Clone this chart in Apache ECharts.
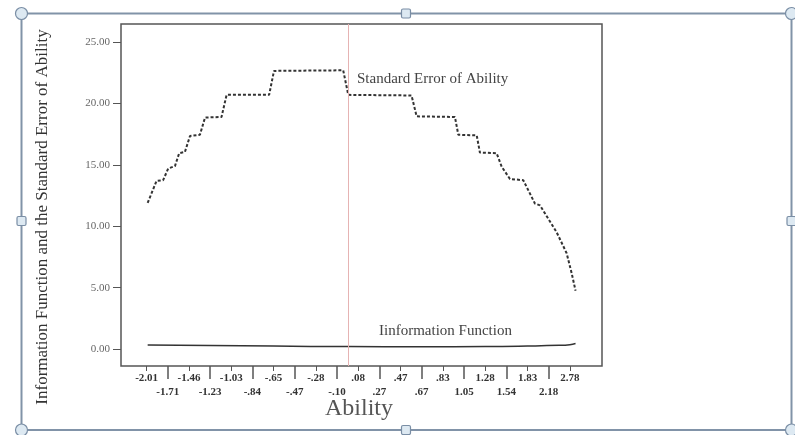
<!DOCTYPE html>
<html>
<head>
<meta charset="utf-8">
<script src="https://cdn.jsdelivr.net/npm/echarts@6/dist/echarts.min.js"></script>
<style>html,body{margin:0;padding:0;background:#fff}#c{width:795px;height:435px}</style>
</head>
<body>
<div id="c"></div>
<script>
// Ability category labels (x positions 0..20)
const abilityLabels = ['-2.01','-1.71','-1.46','-1.23','-1.03','-.84','-.65','-.47','-.28','-.10','.08','.27','.47','.67','.83','1.05','1.28','1.54','1.83','2.18','2.78'];
// Standard Error of Ability (x in category index units, y value)
const seX = [0.05,0.47,0.78,1.02,1.34,1.54,1.81,2.05,2.52,2.76,3.54,3.78,5.79,6.02,9.29,9.53,12.52,12.76,14.57,14.73,15.6,15.75,16.54,16.78,17.17,17.8,18.35,18.59,19.38,19.85,20.09,20.27];
const seY = [11.9,13.7,13.75,14.7,14.9,15.95,16.05,17.35,17.45,18.85,18.9,20.7,20.7,22.65,22.7,20.7,20.65,18.95,18.9,17.45,17.4,16.0,15.95,14.85,13.85,13.75,11.85,11.7,9.5,7.8,6.15,4.75];
// Information Function
const infoX = [0.05,3,6,9.5,13,16,18,19.5,20,20.27];
const infoY = [0.32,0.28,0.24,0.2,0.19,0.2,0.24,0.3,0.36,0.45];
const yTicks = [0,5,10,15,20,25];
const refLineX = 9.54;

const evenIdx = abilityLabels.map((_,i)=>i).filter(i=>i%2===0);
const oddIdx = abilityLabels.map((_,i)=>i).filter(i=>i%2===1);

const chart = echarts.init(document.getElementById('c'), null, {renderer:'canvas'});
const serif = 'Liberation Serif';
const xCommon = {
  type:'value', min:-1.21, max:21.52, position:'bottom', gridIndex:0,
  axisLine:{show:false, onZero:false}, splitLine:{show:false}
};
const W = 795, H = 435;
const frameL = 21.5, frameT = 13.5, frameR = 791.5, frameB = 430;
const handleCircles = [[frameL,frameT],[frameR,frameT],[frameL,frameB],[frameR,frameB]];
const handleSquares = [[406,frameT],[406,frameB],[frameL,221],[frameR,221]];
const graphics = [
  {type:'rect', shape:{x:frameL,y:frameT,width:frameR-frameL,height:frameB-frameT}, style:{fill:null, stroke:'#8193a8', lineWidth:2}, z:1},
  ...handleCircles.map(p=>({type:'circle', shape:{cx:p[0],cy:p[1],r:6}, style:{fill:'#dde9f2', stroke:'#7a8ea5', lineWidth:1.2}, z:2})),
  ...handleSquares.map(p=>({type:'rect', shape:{x:p[0]-4.5,y:p[1]-4.5,width:9,height:9,r:1.5}, style:{fill:'#dde9f2', stroke:'#7a8ea5', lineWidth:1.2}, z:2})),
  {type:'text', x:357, y:79, style:{text:'Standard Error of Ability', font:'15px "Liberation Serif"', fill:'#444', verticalAlign:'middle'}, z:5},
  {type:'text', x:379, y:331, style:{text:'Iinformation Function', font:'15px "Liberation Serif"', fill:'#444', verticalAlign:'middle'}, z:5},
  {type:'text', x:43, y:217, rotation:Math.PI/2, style:{text:'Information Function and the Standard Error of Ability', font:'17px "Liberation Serif"', fill:'#333', align:'center', verticalAlign:'middle'}, z:5},
  {type:'text', x:359, y:409, style:{text:'Ability', font:'24px "Liberation Serif"', fill:'#555', align:'center', verticalAlign:'middle'}, z:5}
];

chart.setOption({
  animation:false,
  backgroundColor:'#fff',
  grid:{left:121, right:W-602, top:24, bottom:H-366, show:true, borderColor:'#555', borderWidth:1.5, backgroundColor:'transparent'},
  xAxis:[
    Object.assign({}, xCommon, {
      axisTick:{show:true, customValues:evenIdx, length:5, lineStyle:{color:'#555', width:1}},
      axisLabel:{show:true, customValues:evenIdx, margin:7, fontFamily:serif, fontWeight:'bold', fontSize:11, color:'#333',
        formatter:v=>abilityLabels[Math.round(v)]}
    }),
    Object.assign({}, xCommon, {
      axisTick:{show:true, customValues:oddIdx, length:13, lineStyle:{color:'#555', width:1.5}},
      axisLabel:{show:true, customValues:oddIdx, margin:21, fontFamily:serif, fontWeight:'bold', fontSize:11, color:'#333',
        formatter:v=>abilityLabels[Math.round(v)]}
    })
  ],
  yAxis:{
    type:'value', min:-1.38, max:26.47,
    axisLine:{show:false, onZero:false}, splitLine:{show:false},
    axisTick:{show:true, customValues:yTicks, length:8, lineStyle:{color:'#555'}},
    axisLabel:{show:true, customValues:yTicks, margin:11, fontFamily:serif, fontSize:11, color:'#666',
      formatter:v=>v.toFixed(2)}
  },
  series:[
    {type:'line', xAxisIndex:0, data:seX.map((x,i)=>[x,seY[i]]), symbol:'none', smooth:false,
      lineStyle:{color:'#333', width:2, type:[3,2]},
      markLine:{silent:true, symbol:'none', label:{show:false}, lineStyle:{color:'#e6b3b3', width:1, type:'solid'},
        data:[{xAxis:refLineX}]}},
    {type:'line', xAxisIndex:0, data:infoX.map((x,i)=>[x,infoY[i]]), symbol:'none', smooth:true,
      lineStyle:{color:'#333', width:1.5}}
  ],
  graphic:graphics
});
</script>
</body>
</html>
